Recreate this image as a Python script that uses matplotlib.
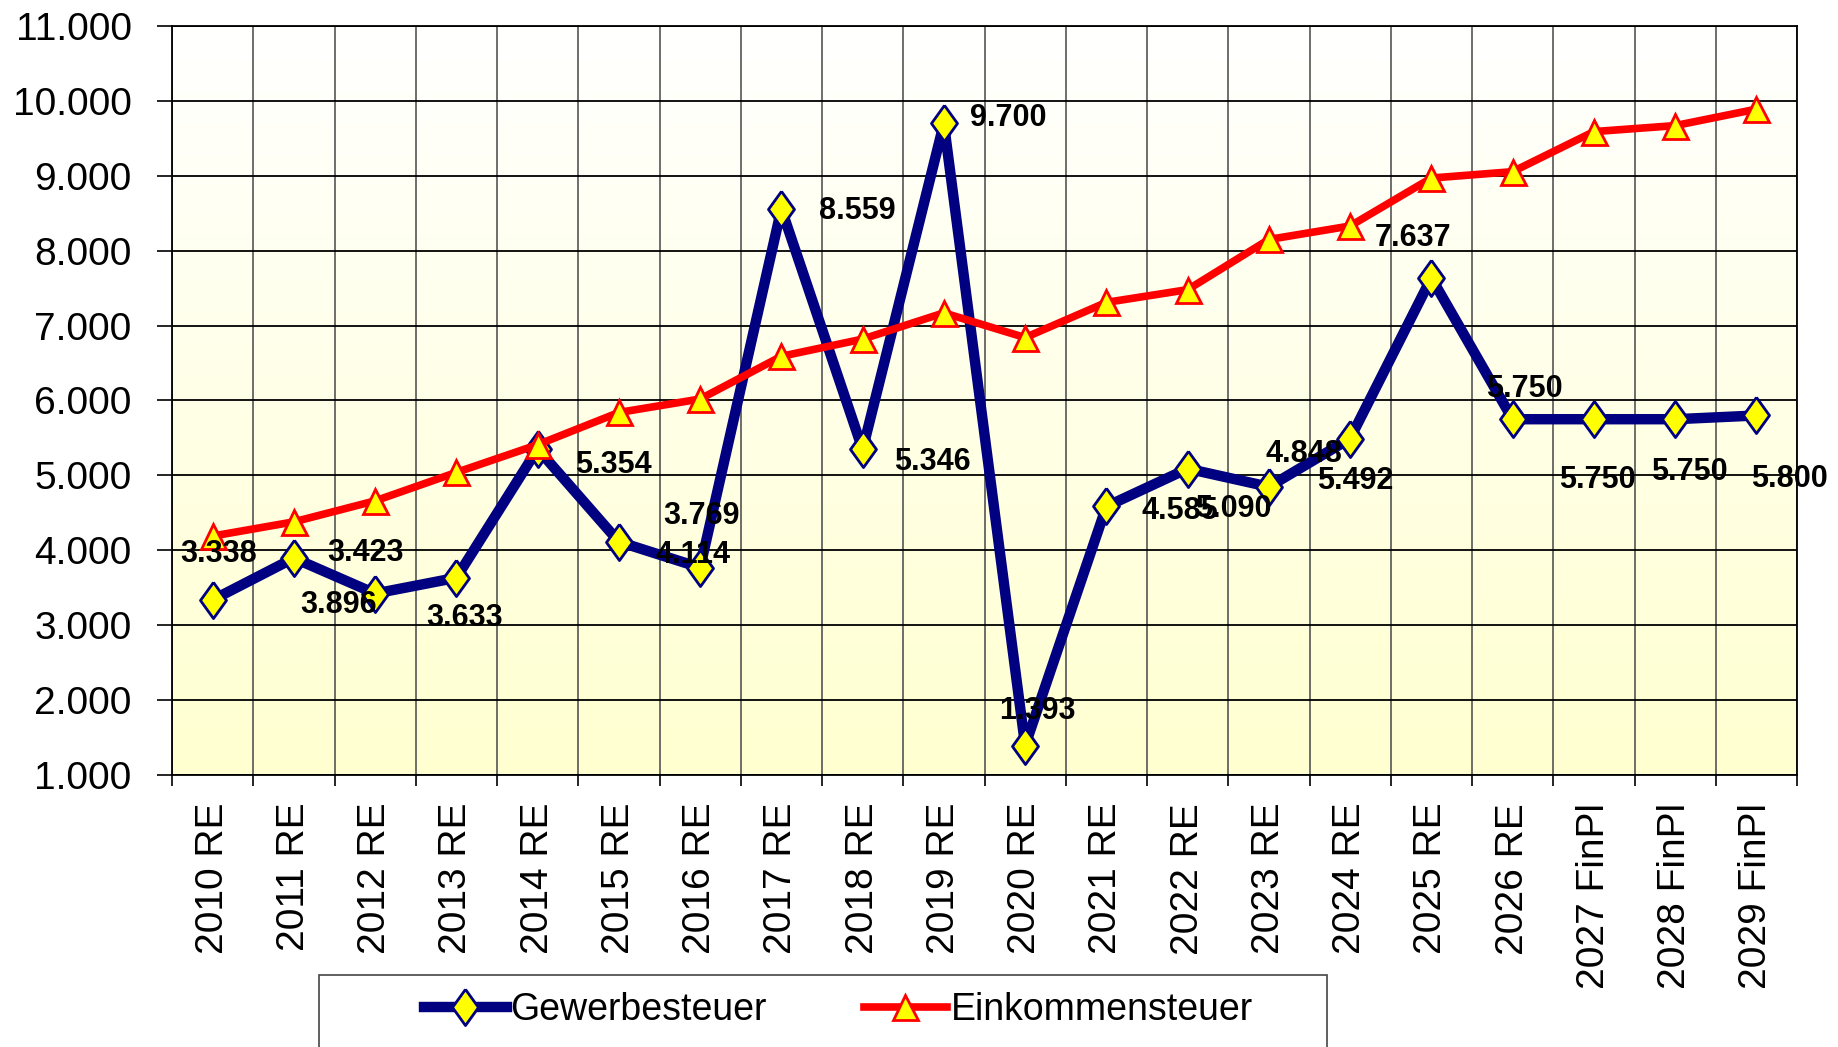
import numpy as np
import matplotlib
matplotlib.use("Agg")
import matplotlib.pyplot as plt
from matplotlib import font_manager
from matplotlib.colors import LinearSegmentedColormap
from matplotlib.patches import Rectangle
from matplotlib.lines import Line2D

# categories and values
years = ["2010 RE", "2011 RE", "2012 RE", "2013 RE", "2014 RE", "2015 RE", "2016 RE",
         "2017 RE", "2018 RE", "2019 RE", "2020 RE", "2021 RE", "2022 RE", "2023 RE",
         "2024 RE", "2025 RE", "2026 RE", "2027 FinPl", "2028 FinPl", "2029 FinPl"]
gewerbe = [3338, 3896, 3423, 3633, 5354, 4114, 3769, 8559, 5346, 9700,
           1393, 4585, 5090, 4848, 5492, 7637, 5750, 5750, 5750, 5800]
einkommen = [4190, 4380, 4660, 5040, 5410, 5840, 6020, 6590, 6820, 7170,
             6840, 7310, 7480, 8150, 8330, 8970, 9055, 9590, 9670, 9890]

# where each data label sits relative to its point (pixels)
label_offsets = [(6, 46), (45, -47), (-10, 41), (8, -40), (76, -16), (74, -13), (1, 52),
                 (76, -2), (70, -13), (64, 5), (12, 35), (73, -5), (46, -40), (35, 33),
                 (5, -42), (-18, 40), (12, 30), (4, -61), (14, -53), (33, -64)]

names = {f.name for f in font_manager.fontManager.ttflist}
main_font = "Liberation Sans" if "Liberation Sans" in names else "DejaVu Sans"
label_font = "Liberation Sans Narrow" if "Liberation Sans Narrow" in names else main_font
label_size = 24 if label_font.endswith("Narrow") else 22
plt.rcParams["font.family"] = main_font

W, H = 1838, 1047
fig = plt.figure(figsize=(W / 100, H / 100), dpi=100)
ax = fig.add_axes([172 / W, 1 - 775 / H, (1797 - 172) / W, (775 - 26) / H])

x = np.arange(len(years))
ax.set_xlim(-0.5, len(years) - 0.5)
ax.set_ylim(1000, 11000)

# white to pale yellow background
cmap = LinearSegmentedColormap.from_list("bg", ["#FFFFFF", "#FFFFD0"])
ax.imshow(np.linspace(0, 1, 256).reshape(-1, 1), extent=[-0.5, len(years) - 0.5, 1000, 11000],
          aspect="auto", cmap=cmap, zorder=0)

ax.set_yticks(np.arange(1000, 11001, 1000))
ax.set_yticklabels([f"{v:,.0f}".replace(",", ".") for v in np.arange(1000, 11001, 1000)])
ax.set_xticks(x)
ax.set_xticklabels(years, rotation=90)
ax.set_xticks(np.arange(-0.5, len(years)), minor=True)
ax.tick_params(axis="x", which="major", length=0, pad=20, labelsize=28)
ax.tick_params(axis="x", which="minor", length=8, width=1.2, direction="out")
ax.tick_params(axis="y", length=11, width=1.2, direction="out", pad=18, labelsize=28)
ax.grid(axis="y", which="major", color="black", linewidth=1.3)
ax.grid(axis="x", which="minor", color="#555555", linewidth=1.2)
for s in ax.spines.values():
    s.set_color("black")
    s.set_linewidth(1.3)

diamond = [(0, 1), (0.72, 0), (0, -1), (-0.72, 0), (0, 1)]
navy_style = dict(color="#000080", linewidth=7.5, marker=diamond, markersize=26,
                  markerfacecolor="#FFFF00", markeredgecolor="#000080", markeredgewidth=2)
red_style = dict(color="#FF0000", linewidth=5.5, marker="^", markersize=18,
                 markerfacecolor="#FFFF00", markeredgecolor="#FF0000", markeredgewidth=2)

ax.plot(x, gewerbe, zorder=3, solid_joinstyle="round", **navy_style)
ax.plot(x, einkommen, zorder=4, solid_joinstyle="round", **red_style)

for xi, v, (dx, dy) in zip(x, gewerbe, label_offsets):
    ax.annotate(f"{v:,.0f}".replace(",", "."), (xi, v), xytext=(dx, dy),
                textcoords="offset pixels", ha="center", va="center",
                fontsize=label_size, fontweight="bold", family=label_font, zorder=6)

# legend box runs off the bottom of the figure like in the original
fig.patches.append(Rectangle((319 / W, -0.05), (1327 - 319) / W, 1 - 975 / H + 0.05,
                             transform=fig.transFigure, fill=False,
                             edgecolor="#444444", linewidth=1.2))
handles = [Line2D([], [], **navy_style), Line2D([], [], **red_style)]
fig.legend(handles, ["Gewerbesteuer", "Einkommensteuer"], loc="center left",
           bbox_to_anchor=(424 / W, 1 - 1010 / H), ncol=2, frameon=False,
           fontsize=27, handlelength=2.2, handletextpad=0.1, columnspacing=2.6,
           numpoints=1, borderpad=0, borderaxespad=0)

fig.savefig("out.png", dpi=100)
